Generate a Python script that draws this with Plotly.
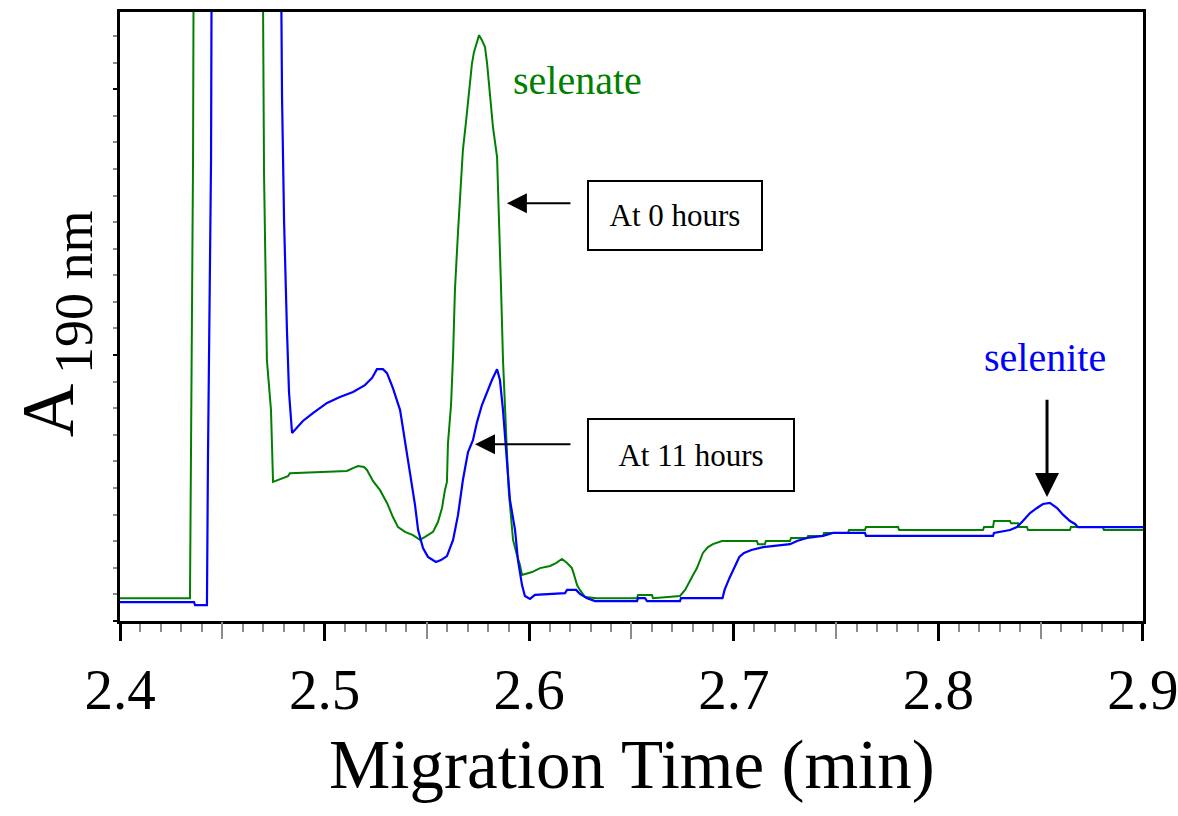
import plotly.graph_objects as go

# Electropherogram traces (migration time in min, absorbance at 190 nm in mAU)
t_0h = [2.4000, 2.4342, 2.4347, 2.4357, 2.4362, 2.4694, 2.4704, 2.4718, 2.4738, 2.4748,
        2.4758, 2.4782, 2.4821, 2.4831, 2.5109, 2.5139, 2.5163, 2.5193, 2.5207, 2.5237,
        2.5271, 2.5305, 2.5334, 2.5359, 2.5393, 2.5432, 2.5466, 2.5491, 2.5530, 2.5554,
        2.5574, 2.5588, 2.5598, 2.5603, 2.5618, 2.5628, 2.5637, 2.5652, 2.5667, 2.5676,
        2.5691, 2.5706, 2.5720, 2.5730, 2.5745, 2.5755, 2.5769, 2.5784, 2.5794, 2.5808,
        2.5823, 2.5843, 2.5852, 2.5862, 2.5872, 2.5887, 2.5896, 2.5901, 2.5911, 2.5921,
        2.5940, 2.5955, 2.5965, 2.5979, 2.6014, 2.6053, 2.6102, 2.6131, 2.6160, 2.6185,
        2.6209, 2.6224, 2.6234, 2.6248, 2.6273, 2.6331, 2.6527, 2.6532, 2.6600, 2.6605,
        2.6737, 2.6762, 2.6786, 2.6801, 2.6820, 2.6835, 2.6849, 2.6874, 2.6898, 2.6942,
        2.7113, 2.7118, 2.7152, 2.7157, 2.7275, 2.7280, 2.7358, 2.7363, 2.7436, 2.7441,
        2.7558, 2.7563, 2.7641, 2.7646, 2.7803, 2.7808, 2.8218, 2.8223, 2.8267, 2.8272,
        2.8350, 2.8355, 2.8389, 2.8394, 2.8433, 2.8438, 2.8643, 2.8648, 2.8804, 2.8809,
        2.9000]
a_0h = [0.86, 0.86, 6.35, 17.33, 30.0, 30.0, 16.80, 9.81, 7.93, 5.23,
        5.26, 5.34, 5.45, 5.56, 5.64, 5.75, 5.83, 5.79, 5.68, 5.26,
        4.92, 4.44, 3.91, 3.53, 3.35, 3.23, 3.05, 3.16, 3.35, 3.72,
        4.25, 4.92, 5.23, 6.69, 8.12, 10.00, 12.44, 14.62, 16.47, 17.71,
        18.76, 20.04, 20.94, 21.39, 21.77, 22.03, 21.84, 21.58, 20.98, 19.77,
        18.57, 17.44, 15.45, 12.63, 9.81, 6.80, 5.49, 4.81, 3.98, 3.05,
        2.48, 2.11, 1.73, 1.77, 1.84, 1.99, 2.07, 2.18, 2.33, 2.18,
        1.99, 1.62, 1.35, 1.17, 0.90, 0.86, 0.86, 0.98, 0.98, 0.86,
        0.94, 1.17, 1.54, 1.73, 1.99, 2.29, 2.56, 2.78, 2.89, 3.01,
        3.01, 2.89, 2.89, 3.01, 3.01, 3.12, 3.12, 3.20, 3.20, 3.31,
        3.31, 3.42, 3.42, 3.53, 3.53, 3.42, 3.42, 3.53, 3.53, 3.76,
        3.76, 3.68, 3.68, 3.53, 3.53, 3.42, 3.42, 3.53, 3.53, 3.42,
        3.42]

t_11h = [2.4000, 2.4362, 2.4367, 2.4425, 2.4430, 2.4445, 2.4450, 2.4782, 2.4792, 2.4802,
         2.4816, 2.4826, 2.4841, 2.4865, 2.4894, 2.4943, 2.5012, 2.5075, 2.5139, 2.5197,
         2.5232, 2.5256, 2.5285, 2.5305, 2.5334, 2.5369, 2.5393, 2.5417, 2.5442, 2.5457,
         2.5481, 2.5505, 2.5544, 2.5569, 2.5598, 2.5628, 2.5652, 2.5676, 2.5701, 2.5725,
         2.5745, 2.5769, 2.5794, 2.5818, 2.5843, 2.5857, 2.5872, 2.5891, 2.5906, 2.5931,
         2.5945, 2.5965, 2.5979, 2.6004, 2.6028, 2.6175, 2.6185, 2.6229, 2.6248, 2.6283,
         2.6322, 2.6527, 2.6532, 2.6566, 2.6576, 2.6737, 2.6742, 2.6945, 2.6955, 2.6979,
         2.7003, 2.7027, 2.7050, 2.7086, 2.7143, 2.7275, 2.7309, 2.7358, 2.7436, 2.7485,
         2.7641, 2.7646, 2.8267, 2.8272, 2.8350, 2.8384, 2.8413, 2.8448, 2.8482, 2.8511,
         2.8545, 2.8580, 2.8609, 2.8643, 2.8668, 2.8682, 2.9000]
a_11h = [0.71, 0.71, 0.60, 0.60, 6.17, 17.37, 30.0, 30.0, 19.70, 15.00,
         10.94, 8.61, 7.07, 7.26, 7.52, 7.82, 8.20, 8.42, 8.61, 8.87,
         9.14, 9.47, 9.47, 9.32, 8.76, 7.93, 6.80, 5.68, 4.36, 3.42,
         2.74, 2.41, 2.22, 2.29, 2.44, 3.05, 3.98, 5.30, 6.35, 6.80,
         7.48, 8.12, 8.61, 9.06, 9.47, 9.06, 7.93, 6.05, 4.55, 3.42,
         2.29, 1.35, 0.94, 0.83, 0.98, 1.05, 1.17, 1.17, 1.02, 0.86,
         0.75, 0.75, 0.86, 0.86, 0.75, 0.75, 0.86, 0.86, 1.17, 1.62,
         1.99, 2.41, 2.56, 2.67, 2.78, 2.89, 3.01, 3.12, 3.20, 3.31,
         3.31, 3.20, 3.20, 3.31, 3.42, 3.53, 3.76, 4.06, 4.25, 4.40,
         4.44, 4.25, 4.00, 3.76, 3.65, 3.53, 3.53]

x_range = [2.4, 2.90001]
y_range = [0, 22.9]

GREEN = "#008000"
BLUE = "#0000FF"
SERIF = "Liberation Serif"

fig = go.Figure()
fig.add_trace(go.Scatter(x=t_0h, y=a_0h, mode="lines", name="At 0 hours",
                         line=dict(color=GREEN, width=2), showlegend=False))
fig.add_trace(go.Scatter(x=t_11h, y=a_11h, mode="lines", name="At 11 hours",
                         line=dict(color=BLUE, width=2.2), showlegend=False))
# empty trace that carries the half-step tick axis
fig.add_trace(go.Scatter(x=x_range, y=[None, None], xaxis="x2", yaxis="y",
                         mode="lines", showlegend=False, hoverinfo="skip"))

annotations = [
    # peak labels
    dict(x=2.6234, y=20.34, xref="x", yref="y", text="selenate", showarrow=False,
         font=dict(family=SERIF, size=40, color=GREEN)),
    dict(x=2.8521, y=9.92, xref="x", yref="y", text="selenite", showarrow=False,
         font=dict(family=SERIF, size=40, color=BLUE)),
    # boxed trace labels
    dict(x=2.6713, y=15.23, xref="x", yref="y", text="At 0 hours", showarrow=False,
         font=dict(family=SERIF, size=31, color="black"),
         bordercolor="black", borderwidth=2, borderpad=0, width=172, height=67,
         bgcolor="white"),
    dict(x=2.6791, y=6.24, xref="x", yref="y", text="At 11 hours", showarrow=False,
         font=dict(family=SERIF, size=31, color="black"),
         bordercolor="black", borderwidth=2, borderpad=0, width=204, height=70,
         bgcolor="white"),
    # arrows
    dict(x=2.5891, y=15.71, ax=2.6209, ay=15.71, xref="x", yref="y", axref="x", ayref="y",
         text="", showarrow=True, arrowhead=2, arrowsize=2, arrowwidth=2,
         arrowcolor="black", standoff=0),
    dict(x=2.5735, y=6.65, ax=2.6209, ay=6.65, xref="x", yref="y", axref="x", ayref="y",
         text="", showarrow=True, arrowhead=2, arrowsize=2, arrowwidth=2,
         arrowcolor="black", standoff=0),
    dict(x=2.8531, y=4.66, ax=2.8531, ay=8.38, xref="x", yref="y", axref="x", ayref="y",
         text="", showarrow=True, arrowhead=2, arrowsize=1.6, arrowwidth=3,
         arrowcolor="black", standoff=0),
    # axis titles
    dict(x=0.5, y=-0.236, xref="paper", yref="paper", text="Migration Time (min)",
         showarrow=False, font=dict(family=SERIF, size=69, color="black"),
         xanchor="center", yanchor="middle"),
    dict(x=-0.0705, y=0.346, xref="paper", yref="paper", text="A", textangle=-90,
         showarrow=False, font=dict(family=SERIF, size=74, color="black"),
         xanchor="center", yanchor="middle"),
    dict(x=-0.045, y=0.54, xref="paper", yref="paper", text="190 nm", textangle=-90,
         showarrow=False, font=dict(family=SERIF, size=54, color="black"),
         xanchor="center", yanchor="middle"),
]

fig.update_layout(
    width=1178, height=816,
    margin=dict(l=120, r=35, t=12, b=195, autoexpand=False),
    paper_bgcolor="white", plot_bgcolor="white",
    annotations=annotations,
    xaxis=dict(range=x_range, tick0=2.4, dtick=0.1, tickformat=".1f",
               ticks="outside", ticklen=17, tickwidth=2.5, tickcolor="black",
               ticklabeloverflow="allow", automargin=False,
               showline=True, linecolor="black", linewidth=2.5, mirror=True,
               showgrid=False, zeroline=False,
               tickfont=dict(family=SERIF, size=57, color="black"),
               minor=dict(dtick=0.01, tick0=2.4, ticks="outside", ticklen=8,
                          tickwidth=2, tickcolor="#8c8c8c", showgrid=False)),
    xaxis2=dict(range=x_range, overlaying="x", anchor="y", side="bottom",
                tickmode="linear", tick0=2.45, dtick=0.1, automargin=False,
                ticks="outside", ticklen=17, tickwidth=2, tickcolor="#8c8c8c",
                showticklabels=False, showline=False, showgrid=False, zeroline=False),
    yaxis=dict(range=y_range, tick0=0, dtick=10, showticklabels=False, automargin=False,
               ticks="outside", ticklen=4, tickwidth=2, tickcolor="black",
               showline=True, linecolor="black", linewidth=2.5, mirror=True,
               showgrid=False, zeroline=False,
               minor=dict(dtick=1, tick0=0, ticks="outside", ticklen=4,
                          tickwidth=2, tickcolor="#8c8c8c", showgrid=False)),
)

fig.write_html("out.html")
